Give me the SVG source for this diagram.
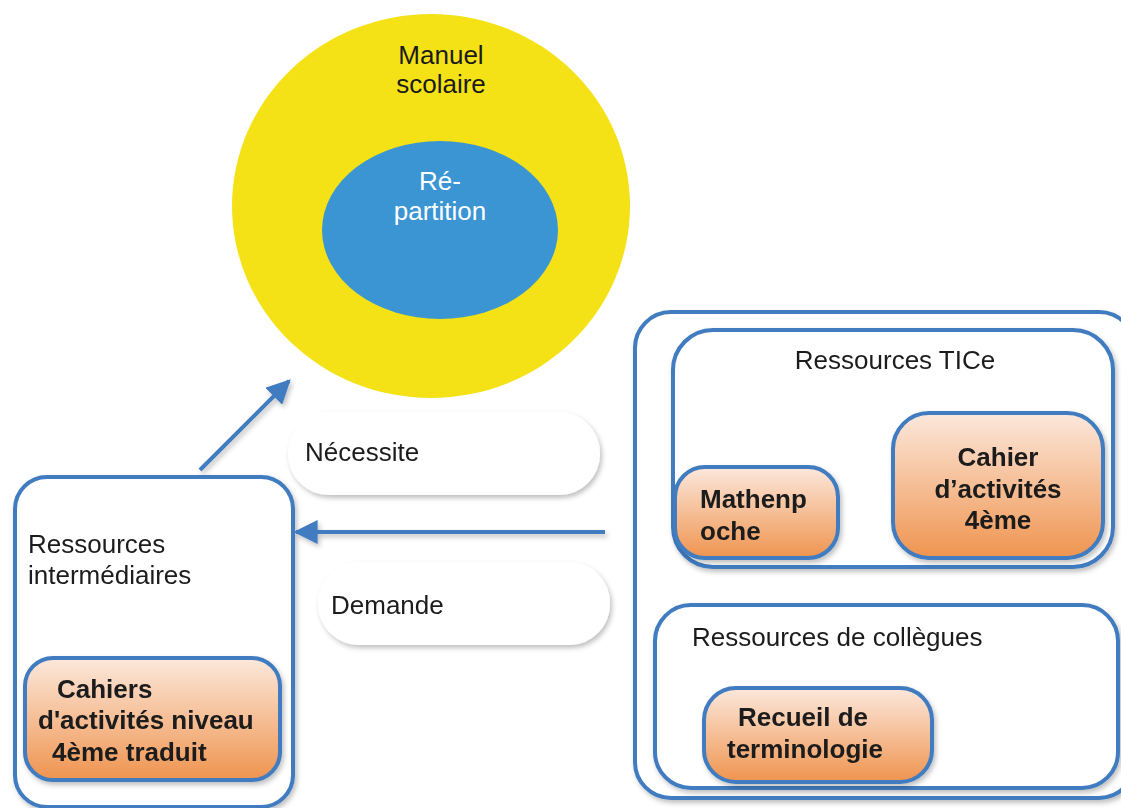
<svg xmlns="http://www.w3.org/2000/svg" width="1121" height="808" viewBox="0 0 1121 808">
<defs>
<linearGradient id="og" x1="0" y1="0" x2="0" y2="1">
<stop offset="0" stop-color="#fce8dc"/>
<stop offset="1" stop-color="#ef944f"/>
</linearGradient>
<filter id="sh" x="-10%" y="-10%" width="130%" height="130%">
<feDropShadow dx="2" dy="3" stdDeviation="2.5" flood-color="#000" flood-opacity="0.25"/>
</filter>
<marker id="ah" viewBox="0 0 10 10" refX="9" refY="5" markerWidth="6" markerHeight="6" markerUnits="strokeWidth" orient="auto">
<path d="M0,0 L10,5 L0,10 z" fill="#3f7bbf"/>
</marker>
<style>
.box{fill:#fff;stroke:#3f7bbf;stroke-width:4}
.obox{fill:url(#og);stroke:#3f7bbf;stroke-width:4}
.pill{fill:#fff}
.t{font-family:"Liberation Sans",Arial,sans-serif;font-size:26px;fill:#1a1a1a}
.b{font-family:"Liberation Sans",Arial,sans-serif;font-size:26px;font-weight:bold;fill:#1a1a1a}
.conn{stroke:#3f7bbf;stroke-width:4;fill:none}
</style>
</defs>
<rect width="1121" height="808" fill="#fff"/>

<g id="manuel">
<ellipse cx="431" cy="206" rx="199" ry="192" fill="#f5e216"/>
<text class="t" x="441" y="64" text-anchor="middle">Manuel</text>
<text class="t" x="441" y="93" text-anchor="middle">scolaire</text>
</g>
<g id="repartition">
<ellipse cx="440" cy="230" rx="118" ry="89" fill="#3a95d2"/>
<text class="t" x="440" y="190" text-anchor="middle" style="fill:#fff">Ré-</text>
<text class="t" x="440" y="220" text-anchor="middle" style="fill:#fff">partition</text>
</g>

<g id="necessite" filter="url(#sh)">
<rect class="pill" x="288" y="412" width="312" height="83" rx="41"/>
<text class="t" x="305" y="461">Nécessite</text>
</g>
<g id="demande" filter="url(#sh)">
<rect class="pill" x="318" y="562" width="292" height="83" rx="41"/>
<text class="t" x="331" y="614">Demande</text>
</g>

<g id="intermediaires" filter="url(#sh)">
<rect class="box" x="15" y="477" width="278" height="330" rx="32"/>
<text class="t" x="28" y="553">Ressources</text>
<text class="t" x="28" y="584">intermédiaires</text>
</g>
<g id="cahiers-traduit" filter="url(#sh)">
<rect class="obox" x="25" y="658" width="255" height="122" rx="28"/>
<text class="b" x="57" y="698">Cahiers</text>
<text class="b" x="38" y="729">d'activités niveau</text>
<text class="b" x="52" y="761">4ème traduit</text>
</g>

<g id="ressources-ext" filter="url(#sh)">
<rect class="box" x="635" y="312" width="500" height="486" rx="36"/>
</g>
<g id="tice" filter="url(#sh)">
<rect class="box" x="673" y="330" width="440" height="237" rx="40"/>
<text class="t" x="895" y="369" text-anchor="middle">Ressources TICe</text>
</g>
<g id="mathenpoche" filter="url(#sh)">
<rect class="obox" x="675" y="467" width="163" height="91" rx="30"/>
<text class="b" x="700" y="508">Mathenp</text>
<text class="b" x="700" y="540">oche</text>
</g>
<g id="cahier-4eme" filter="url(#sh)">
<rect class="obox" x="893" y="413" width="210" height="145" rx="36"/>
<text class="b" x="998" y="466" text-anchor="middle">Cahier</text>
<text class="b" x="998" y="498" text-anchor="middle">d’activités</text>
<text class="b" x="998" y="529" text-anchor="middle">4ème</text>
</g>
<g id="collegues" filter="url(#sh)">
<rect class="box" x="655" y="605" width="463" height="183" rx="36"/>
<text class="t" x="692" y="646">Ressources de collègues</text>
</g>
<g id="recueil" filter="url(#sh)">
<rect class="obox" x="704" y="688" width="228" height="94" rx="32"/>
<text class="b" x="738" y="726">Recueil de</text>
<text class="b" x="727" y="758">terminologie</text>
</g>

<g id="connectors" filter="url(#sh)">
<line class="conn" x1="200" y1="470" x2="289" y2="381" marker-end="url(#ah)"/>
<line class="conn" x1="605" y1="532" x2="296" y2="532" marker-end="url(#ah)"/>
</g>
</svg>
